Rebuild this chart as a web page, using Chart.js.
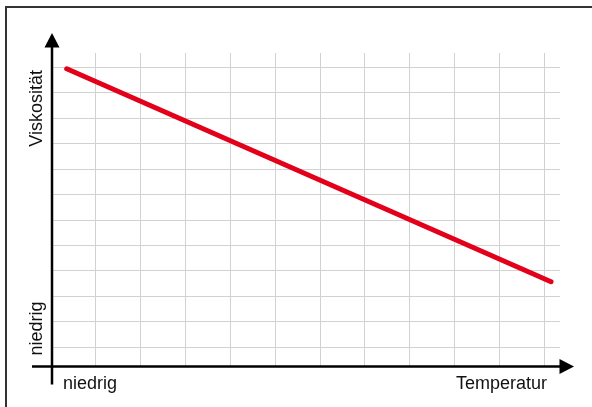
<!DOCTYPE html>
<html>
<head>
<meta charset="utf-8">
<script src="https://cdn.jsdelivr.net/npm/chart.js@4.4.1/dist/chart.umd.min.js"></script>
<style>
    html, body { margin: 0; padding: 0; background: #fff; }
    #wrap { width: 592px; height: 407px; position: relative; }
</style>
</head>
<body>
<div id="wrap"><canvas id="grafico"></canvas></div>
<script>
// Werte (schematisch, ohne Einheiten)
const temperatur = [0.35, 11.15];
const viskositaet = [10.95, 2.58];

// Rasterlinien
const xRaster = [0, 1, 2, 3, 4, 5, 6, 7, 8, 9, 10, 11];
const yRaster = [0, 1, 2, 3, 4, 5, 6, 7, 8, 9, 10, 11];

// Achsbeschriftungen
const xBeschriftung = ['niedrig', 'Temperatur'];
const yBeschriftung = ['niedrig', 'Viskosität'];

const schrift = '18px "Liberation Sans", Arial, Helvetica, sans-serif';

const achsenPlugin = {
    id: 'achsen',
    afterDraw(chart) {
        const ctx = chart.ctx;
        const a = chart.chartArea;
        const ax = a.left + 1;
        const ay = a.bottom;

        ctx.save();

        // Rahmen
        ctx.strokeStyle = '#333';
        ctx.lineWidth = 2;
        ctx.beginPath();
        ctx.moveTo(6, 410);
        ctx.lineTo(6, 7);
        ctx.lineTo(600, 7);
        ctx.stroke();

        // Achsen
        ctx.strokeStyle = '#000';
        ctx.fillStyle = '#000';
        ctx.lineWidth = 2.5;
        ctx.beginPath();
        ctx.moveTo(ax, ay + 18);
        ctx.lineTo(ax, a.top - 6);
        ctx.moveTo(ax - 20, ay);
        ctx.lineTo(a.right, ay);
        ctx.stroke();

        // Pfeilspitzen
        ctx.beginPath();
        ctx.moveTo(ax, a.top - 20);
        ctx.lineTo(ax + 7.5, a.top - 5.5);
        ctx.lineTo(ax - 7.5, a.top - 5.5);
        ctx.closePath();
        ctx.fill();
        ctx.beginPath();
        ctx.moveTo(a.right + 14, ay);
        ctx.lineTo(a.right - 0.5, ay - 7.5);
        ctx.lineTo(a.right - 0.5, ay + 7.5);
        ctx.closePath();
        ctx.fill();

        // Texte
        ctx.font = schrift;
        ctx.fillStyle = '#111';
        ctx.textBaseline = 'alphabetic';
        ctx.textAlign = 'left';
        ctx.fillText(xBeschriftung[0], a.left + 12, ay + 22);
        ctx.textAlign = 'right';
        ctx.fillText(xBeschriftung[1], a.right - 13, ay + 22);

        ctx.translate(42, 0);
        ctx.rotate(-Math.PI / 2);
        ctx.textAlign = 'left';
        ctx.fillText(yBeschriftung[0], -(ay - 11), 0);
        ctx.textAlign = 'right';
        ctx.fillText(yBeschriftung[1], -(a.top + 17), 0);

        ctx.restore();
    }
};

new Chart(document.getElementById('grafico'), {
    type: 'line',
    data: {
        datasets: [{
            data: temperatur.map((t, i) => ({ x: t, y: viskositaet[i] })),
            borderColor: 'rgb(226, 0, 26)',
            borderWidth: 5,
            borderCapStyle: 'round',
            pointRadius: 0,
            tension: 0
        }]
    },
    options: {
        responsive: true,
        maintainAspectRatio: false,
        animation: false,
        layout: { padding: { left: 51, right: 32, top: 53, bottom: 40.5 } },
        plugins: { legend: { display: false }, tooltip: { enabled: false } },
        scales: {
            x: {
                type: 'linear',
                min: 0,
                max: 11.35,
                afterBuildTicks: s => { s.ticks = xRaster.map(v => ({ value: v })); },
                ticks: { display: false },
                grid: { color: '#d2d2d2', lineWidth: 1, drawTicks: false },
                border: { display: false }
            },
            y: {
                type: 'linear',
                min: -0.755,
                max: 11.57,
                afterBuildTicks: s => { s.ticks = yRaster.map(v => ({ value: v })); },
                ticks: { display: false },
                grid: { color: '#d2d2d2', lineWidth: 1, drawTicks: false },
                border: { display: false }
            }
        }
    },
    plugins: [achsenPlugin]
});
</script>
</body>
</html>
